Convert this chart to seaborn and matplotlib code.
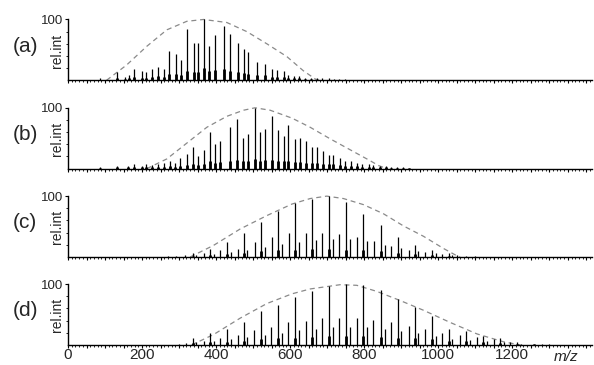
import numpy as np
import pandas as pd
import matplotlib
matplotlib.use("Agg")
import matplotlib.pyplot as plt
import seaborn as sns
from matplotlib.ticker import MultipleLocator, FixedLocator, FuncFormatter

# ── Data (m/z, relative intensity) ───────────────────────────────────────────
# (a)
mz_a   = [86, 131, 154, 165, 177, 199, 211, 226, 244, 258, 274, 292, 305, 321, 339, 352, 366, 382, 397, 420,
          438, 458, 474, 487, 510, 532, 550, 564, 582, 595, 611, 625, 641, 657, 672, 687, 704, 719, 733, 749]
int_a  = [4, 14, 5, 9, 19, 15, 14, 19, 22, 19, 48, 44, 34, 85, 62, 62, 100, 56, 75, 89,
          76, 62, 51, 46, 30, 27, 19, 17, 15, 9, 7, 7, 4, 4, 3, 3, 3, 2, 2, 2]
base_a = [1, 3, 2, 3, 5, 4, 4, 6, 7, 6, 10, 10, 9, 16, 14, 14, 20, 15, 17, 18,
          16, 14, 12, 11, 9, 8, 6, 6, 5, 4, 3, 3, 2, 2, 1, 1, 1, 1, 1, 1]
env_mz_a  = [104, 158, 213, 267, 321, 366, 429, 483, 537, 591, 635, 668, 680]
env_int_a = [0, 25, 56, 83, 97, 100, 95, 80, 60, 39, 16, 2, 0]

# (b)
mz_b   = [86, 131, 163, 177, 199, 211, 226, 244, 258, 276, 289, 303, 321, 337, 352, 368, 384, 397, 411, 438,
          456, 472, 487, 505, 519, 532, 550, 566, 582, 595, 613, 627, 643, 659, 672, 688, 704, 717, 735, 749,
          765, 780, 795, 812, 825, 843, 859, 873, 888, 905, 920]
int_b  = [2, 5, 5, 7, 5, 7, 6, 8, 10, 13, 10, 18, 24, 35, 20, 31, 61, 40, 46, 69,
          82, 50, 57, 100, 60, 65, 87, 64, 54, 71, 49, 50, 45, 35, 35, 29, 22, 22, 18, 13,
          13, 10, 8, 8, 6, 5, 4, 3, 2, 2, 1]
base_b = [1, 2, 2, 2, 2, 2, 2, 3, 3, 4, 3, 5, 6, 8, 6, 8, 12, 10, 11, 13,
          15, 12, 13, 16, 13, 14, 15, 13, 12, 13, 11, 11, 10, 9, 9, 8, 7, 7, 6, 5,
          5, 4, 3, 3, 3, 2, 2, 1, 1, 1, 1]
env_mz_b  = [213, 267, 321, 375, 429, 474, 505, 546, 605, 654, 708, 762, 816, 839, 861]
env_int_b = [0, 16, 42, 68, 86, 96, 100, 96, 83, 68, 49, 31, 13, 5, 0]

# (c)
mz_c    = [337, 384, 429, 474, 521, 567, 613, 660, 706, 751, 798, 845, 890, 936, 983, 1028]
int_c   = [7, 13, 25, 40, 58, 75, 88, 95, 100, 90, 71, 52, 32, 20, 12, 6]
base_c  = [2, 3, 5, 7, 9, 11, 12, 13, 13, 12, 11, 9, 7, 5, 3, 2]
mz_c2   = [271, 293, 316, 366, 411, 458, 504, 550, 596, 642, 687, 733, 780, 827, 873, 920, 965, 1010, 1050,
           1075, 1100]
int_c2  = [2, 2, 3, 7, 12, 13, 25, 33, 40, 40, 40, 37, 32, 27, 18, 12, 8, 5, 4, 2, 1]
mz_c3   = [347, 394, 439, 484, 531, 577, 623, 670, 716, 761, 808, 855, 900, 946, 993, 1038]
int_c3  = [3, 5, 8, 12, 17, 22, 25, 28, 30, 30, 26, 20, 15, 10, 6, 3]
env_mz_c  = [330, 393, 465, 537, 605, 654, 699, 744, 798, 852, 906, 960, 1014, 1050, 1059]
env_int_c = [0, 19, 46, 68, 87, 96, 100, 96, 86, 71, 51, 34, 14, 2, 0]

# (d)
mz_d    = [337, 384, 429, 474, 521, 567, 613, 660, 706, 751, 798, 845, 890, 936, 983, 1028, 1076, 1121, 1168, 1213, 1258]
int_d   = [11, 20, 26, 38, 55, 65, 79, 88, 97, 100, 99, 91, 76, 63, 47, 27, 23, 15, 11, 5, 2]
base_d  = [3, 4, 5, 7, 9, 11, 12, 13, 14, 14, 14, 13, 12, 11, 9, 7, 6, 5, 3, 2, 1]
mz_d2   = [300, 318, 366, 411, 458, 501, 548, 593, 642, 687, 733, 780, 825, 873, 920, 965, 1010, 1059, 1105, 1150, 1195,
           1280, 1300]
int_d2  = [2, 3, 6, 12, 16, 25, 30, 37, 40, 44, 44, 44, 41, 38, 31, 27, 19, 16, 13, 9, 5, 1, 1]
mz_d3   = [347, 394, 439, 484, 531, 577, 623, 670, 716, 761, 808, 855, 900, 946, 993, 1038, 1086, 1131, 1178, 1223]
int_d3  = [4, 6, 9, 13, 17, 20, 24, 27, 29, 30, 29, 27, 23, 19, 15, 10, 8, 6, 4, 2]
env_mz_d  = [334, 393, 465, 537, 605, 654, 735, 780, 834, 897, 960, 1032, 1105, 1177, 1222]
env_int_d = [0, 17, 44, 68, 84, 92, 99, 98, 88, 73, 57, 37, 18, 5, 0]

panel_labels = ["(a)", "(b)", "(c)", "(d)"]
xtick_labels = [0, 200, 400, 600, 800, 1000, 1200]

panels = [
    dict(main=(mz_a, int_a), base=(mz_a, base_a), extra=[], env=(env_mz_a, env_int_a)),
    dict(main=(mz_b, int_b), base=(mz_b, base_b), extra=[], env=(env_mz_b, env_int_b)),
    dict(main=(mz_c, int_c), base=(mz_c, base_c), extra=[(mz_c2, int_c2), (mz_c3, int_c3)],
         env=(env_mz_c, env_int_c)),
    dict(main=(mz_d, int_d), base=(mz_d, base_d), extra=[(mz_d2, int_d2), (mz_d3, int_d3)],
         env=(env_mz_d, env_int_d)),
]

# ── Style ─────────────────────────────────────────────────────────────────────
sns.set_style("ticks")
plt.rcParams['font.family'] = ['Liberation Sans', 'DejaVu Sans']

fig = plt.figure(figsize=(5.94, 3.65), dpi=100)
bottoms = [0.780, 0.538, 0.296, 0.055]
left, width, height = 0.1145, 0.882, 0.170

for i, p in enumerate(panels):
    ax = fig.add_axes([left, bottoms[i], width, height])

    # dashed envelope
    env = pd.DataFrame({"mz": p["env"][0], "int": p["env"][1]})
    sns.lineplot(data=env, x="mz", y="int", ax=ax, color="#8a8a8a",
                 linewidth=0.9, linestyle=(0, (4, 3)), zorder=1)

    # sticks
    ax.vlines(p["base"][0], 0, p["base"][1], color="black", linewidth=2.0, zorder=2)
    for mz, h in p["extra"]:
        ax.vlines(mz, 0, h, color="black", linewidth=0.9, zorder=3)
    ax.vlines(p["main"][0], 0, p["main"][1], color="black", linewidth=0.9, zorder=3)

    ax.set_xlim(0, 1415)
    ax.set_ylim(0, 102)
    sns.despine(ax=ax)
    ax.spines['left'].set_bounds(0, 100)
    for s in ['left', 'bottom']:
        ax.spines[s].set_linewidth(1.0)
        ax.spines[s].set_color("black")

    ax.xaxis.set_major_locator(MultipleLocator(50))
    ax.xaxis.set_minor_locator(MultipleLocator(10))
    ax.xaxis.set_major_formatter(FuncFormatter(
        lambda v, pos: f"{int(v)}" if int(round(v)) in xtick_labels else ""))
    ax.yaxis.set_major_locator(FixedLocator([100]))
    ax.yaxis.set_minor_locator(FixedLocator([20, 40, 60, 80]))

    ax.tick_params(axis='both', which='major', direction='out', length=2.5, width=0.8,
                   color="black", pad=1)
    ax.tick_params(axis='both', which='minor', direction='out', length=1.3, width=0.6,
                   color="black")
    ax.tick_params(axis='y', labelsize=9.5)
    ax.tick_params(axis='x', labelsize=11, pad=0)
    if i < 3:
        ax.tick_params(axis='x', labelbottom=False)

    ax.set_xlabel("")
    ax.set_ylabel("rel.int", fontsize=10)
    ax.yaxis.set_label_coords(-0.007, 0.48)
    ax.text(-0.082, 0.55, panel_labels[i], transform=ax.transAxes,
            ha="center", va="center", fontsize=15)

    if i == 3:
        ax.text(1345, -0.08, "m/z", transform=ax.get_xaxis_transform(),
                ha="center", va="top", fontsize=11, style="italic")

fig.savefig("out.png", dpi=100)
